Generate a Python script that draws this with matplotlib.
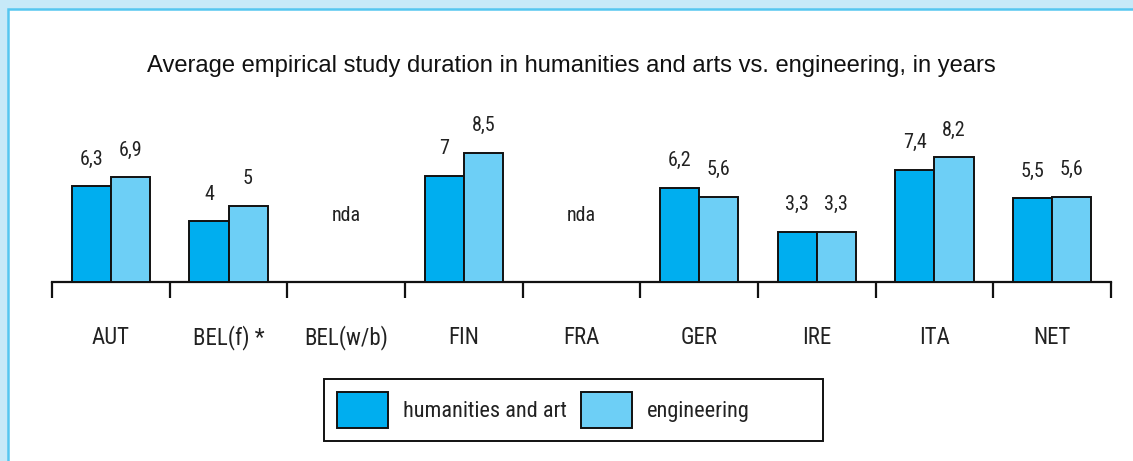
import matplotlib.pyplot as plt
import matplotlib.patches as mpatches
import numpy as np

# chart values (nda = no data available)
countries = ["AUT", "BEL(f) *", "BEL(w/b)", "FIN", "FRA", "GER", "IRE", "ITA", "NET"]
humanities = [6.3, 4.0, np.nan, 7.0, np.nan, 6.2, 3.3, 7.4, 5.5]
engineering = [6.9, 5.0, np.nan, 8.5, np.nan, 5.6, 3.3, 8.2, 5.6]
title = "Average empirical study duration in humanities and arts vs. engineering, in years"

dark_blue = "#00aeef"
light_blue = "#6dcff6"
txt = "#222222"
narrow = ["Roboto Condensed", "Roboto", "DejaVu Sans"]

W, H = 1133, 461
fig = plt.figure(figsize=(W / 100, H / 100), dpi=100)
fig.patch.set_facecolor("#c7e9f8")

# white panel with blue border (right/bottom edges run off the picture)
panel = mpatches.Rectangle((8 / W, -0.1), 1.2, (H - 9) / H + 0.1, transform=fig.transFigure,
                           facecolor="white", edgecolor="#55c6f0", linewidth=1.8, zorder=-5)
fig.patches.append(panel)

# axes: baseline at y=282px, categories between x=52px and x=1111px
ax = fig.add_axes([52 / W, (H - 282) / H, (1111 - 52) / W, 152 / H])
ax.set_facecolor("none")
ax.set_xlim(0, len(countries))
ax.set_ylim(0, 10)

x = np.arange(len(countries)) + 0.5
w = 0.332
hum = np.array(humanities)
eng = np.array(engineering)
b1 = ax.bar(x - w / 2, np.nan_to_num(hum), w, color=dark_blue, edgecolor="#111111", linewidth=1.4,
            label="humanities and art", zorder=3)
b2 = ax.bar(x + w / 2, np.nan_to_num(eng), w, color=light_blue, edgecolor="#111111", linewidth=1.4,
            label="engineering", zorder=3)
for patch, v in zip(b1, hum):
    if np.isnan(v):
        patch.set_visible(False)
for patch, v in zip(b2, eng):
    if np.isnan(v):
        patch.set_visible(False)

def fmt(v):
    s = f"{v:g}"
    return s.replace(".", ",")

for i in range(len(countries)):
    if np.isnan(hum[i]):
        ax.text(x[i], 4.4, "nda", ha="center", va="center", fontsize=14.5, color=txt, family=narrow)
        continue
    ax.text(x[i] - w / 2, hum[i] + 1.78, fmt(hum[i]), ha="center", va="center",
            fontsize=14.5, color=txt, family=narrow)
    ax.text(x[i] + w / 2, eng[i] + 1.78, fmt(eng[i]), ha="center", va="center",
            fontsize=14.5, color=txt, family=narrow)

for i, c in enumerate(countries):
    ax.text(x[i], -3.65, c, ha="center", va="center", fontsize=16.5, color=txt, family=narrow,
            clip_on=False)

for s in ["top", "right", "left"]:
    ax.spines[s].set_visible(False)
ax.spines["bottom"].set_linewidth(1.6)
ax.spines["bottom"].set_color("#111111")
ax.set_xticks(np.arange(len(countries) + 1))
ax.set_xticklabels([])
ax.tick_params(axis="x", direction="out", length=11.5, width=1.6, color="#111111")
ax.set_yticks([])

fig.text(571.5 / W, 1 - 66 / H, title, ha="center", va="center", fontsize=17.1,
         family="Liberation Sans", color="#111111")

# legend box (wider on the right than the entries need, as in the original)
box = mpatches.Rectangle((324 / W, 1 - 441 / H), (823 - 324) / W, 62 / H, transform=fig.transFigure,
                         facecolor="white", edgecolor="#111111", linewidth=1.4, zorder=1)
fig.patches.append(box)
leg = fig.legend(handles=[b1, b2], loc="center left", bbox_to_anchor=(337 / W, 1 - 410 / H),
                 ncol=2, frameon=False,
                 prop={"family": narrow, "size": 16},
                 handlelength=2.3, handleheight=2.05, handletextpad=0.68, columnspacing=0.62,
                 borderpad=0, borderaxespad=0)
leg.set_zorder(2)
for t in leg.get_texts():
    t.set_color(txt)

fig.savefig("out.png", dpi=100)
